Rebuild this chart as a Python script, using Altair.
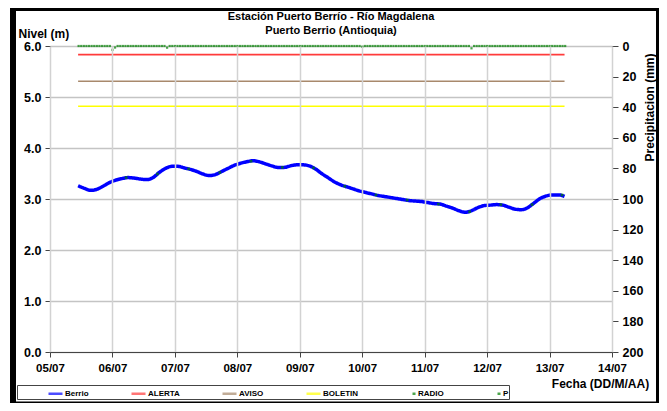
import altair as alt
import pandas as pd

# ---------------- data ----------------
T0 = pd.Timestamp("2011-07-05")

# Nivel Berrio (m), sampled every 0.1 day from day 0.45 after 05/07 00:00, last point at day 8.24
level_values = [3.26, 3.21, 3.17, 3.19, 3.25, 3.32, 3.37, 3.40, 3.42, 3.41,
                3.39, 3.38, 3.42, 3.52, 3.60, 3.64, 3.64, 3.61, 3.58, 3.54,
                3.49, 3.46, 3.48, 3.54, 3.60, 3.66, 3.70, 3.73, 3.75, 3.73,
                3.69, 3.65, 3.62, 3.62, 3.65, 3.67, 3.67, 3.65, 3.59, 3.50,
                3.42, 3.34, 3.28, 3.24, 3.20, 3.16, 3.13, 3.10, 3.07, 3.05,
                3.03, 3.01, 2.99, 2.97, 2.96, 2.95, 2.93, 2.91, 2.90, 2.86,
                2.82, 2.77, 2.74, 2.77, 2.83, 2.87, 2.88, 2.89, 2.88, 2.84,
                2.80, 2.79, 2.83, 2.92, 3.01, 3.06, 3.08, 3.08, 3.05]
level_days = [round(0.45 + 0.1 * i, 2) for i in range(78)] + [8.24]

# Threshold levels (m)
thr_names = ["ALERTA", "AVISO", "BOLETIN"]
thr_values = [5.83, 5.31, 4.82]
thr_span_days = [0.45, 8.24]

# RADIO readings (m)
radio_days = [1.22, 1.72, 2.22, 2.72, 3.22, 3.72, 4.22, 4.72, 5.22, 5.72, 6.22, 6.72, 7.22, 7.72, 8.20]
radio_values = [3.42, 3.49, 3.59, 3.52, 3.74, 3.62, 3.61, 3.25, 3.08, 2.98, 2.90, 2.75, 2.89, 2.89, 3.08]

# Precipitation (mm), hourly, from 05/07 11:00 to 13/07 06:00; zero except these hours
p_first_hour = 11
p_last_hour = 198
p_events = {24: 2.5, 25: 1.0, 45: 1.1, 120: 0.5, 162: 1.5}

series = ["Berrio", "ALERTA", "AVISO", "BOLETIN", "RADIO", "P"]
series_colors = ["#0000ff", "#ff3b3b", "#a8896c", "#ffff00", "#008000", "#008000"]
series_dash = [[1, 0], [1, 0], [1, 0], [1, 0], [0, 11, 3, 100], [0, 11, 3, 100]]

day_ticks = list(range(5, 15))

# ---------------- tables ----------------
def ts(d):
    return T0 + pd.Timedelta(days=d)

df_level = pd.DataFrame({"t": [ts(d) for d in level_days], "v": level_values, "serie": "Berrio"})
df_thr = pd.DataFrame([
    {"t": ts(d), "v": v, "serie": n}
    for n, v in zip(thr_names, thr_values) for d in thr_span_days
])
df_radio = pd.DataFrame({"t": [ts(d) for d in radio_days], "v": radio_values, "serie": "RADIO"})
hours = list(range(p_first_hour, p_last_hour + 1))
df_p = pd.DataFrame({
    "t": [T0 + pd.Timedelta(hours=h) for h in hours],
    "p": [p_events.get(h, 0.0) for h in hours],
    "serie": "P",
})

FONT = "Liberation Sans"
W, H = 562, 306

x_enc = alt.X(
    "t:T",
    scale=alt.Scale(domain=[alt.DateTime(year=2011, month=7, date=5),
                            alt.DateTime(year=2011, month=7, date=14)]),
    axis=alt.Axis(
        values=[alt.DateTime(year=2011, month=7, date=d) for d in day_ticks],
        format="%d/%m", labelFontWeight="bold", labelFontSize=11.5, labelColor="black",
        labelPadding=5, tickSize=5, tickColor="#444", domainColor="#444",
        grid=True, gridColor="#d2d2d2", gridWidth=1.5,
        title="Fecha (DD/M/AA)", titleFontSize=12, titleFontWeight="bold",
        titleX=550, titleY=31, titleAlign="center", titleBaseline="middle",
        labelFlush=False, zindex=1,
    ),
)

y_scale = alt.Scale(domain=[0, 6], nice=False, zero=True)
y_axis = alt.Axis(
    values=[i * 0.5 for i in range(13)],
    labelExpr="datum.value % 1 == 0 ? format(datum.value, '.1f') : ''",
    tickOpacity={"condition": {"test": "datum.value % 1 != 0", "value": 0}, "value": 1},
    labelFontWeight="bold", labelFontSize=12.5, labelColor="black", labelPadding=4,
    tickSize=5, tickColor="#444", domainColor="#444",
    grid=True, gridColor="#c4c4c4", gridWidth=1.3,
    title="Nivel (m)", titleAngle=0, titleX=-32, titleY=-13, titleAlign="left",
    titleBaseline="middle", titleFontSize=12, titleFontWeight="bold",
)

legend = alt.Legend(
    orient="none", legendX=-33, legendY=339, direction="horizontal", columns=6,
    title=" ", titleOrient="left", titlePadding=30,
    symbolType="stroke", symbolSize=196, symbolStrokeWidth=2.5,
    labelFontSize=8, labelFontWeight="bold", labelColor="black", labelOffset=1,
    columnPadding=37, padding=0, strokeColor="#444", fillColor="white",
)

stroke_scale = alt.Scale(domain=series, range=series_colors)
dash_scale = alt.Scale(domain=series, range=series_dash)

line_berrio = alt.Chart(df_level).mark_line(strokeWidth=3.5, interpolate="monotone").encode(
    x=x_enc,
    y=alt.Y("v:Q", scale=y_scale, axis=y_axis),
    stroke=alt.Stroke("serie:N", scale=stroke_scale, legend=legend),
    strokeDash=alt.StrokeDash("serie:N", scale=dash_scale, legend=legend),
)

line_thr = alt.Chart(df_thr).mark_line(strokeWidth=1.6).encode(
    x="t:T",
    y=alt.Y("v:Q"),
    stroke=alt.Stroke("serie:N", scale=stroke_scale, legend=legend),
    strokeDash=alt.StrokeDash("serie:N", scale=dash_scale, legend=legend),
    detail="serie:N",
)

pts_radio = alt.Chart(df_radio).mark_square(size=7, filled=True, color="#008000", strokeWidth=0).encode(
    x="t:T",
    y=alt.Y("v:Q"),
    stroke=alt.Stroke("serie:N", scale=stroke_scale, legend=legend),
)

left = alt.layer(line_thr, line_berrio, pts_radio)

pts_p = alt.Chart(df_p).mark_square(size=5, filled=True, color="#008000", strokeWidth=0).encode(
    x="t:T",
    y=alt.Y(
        "p:Q",
        scale=alt.Scale(domain=[0, 200], reverse=True, nice=False),
        axis=alt.Axis(
            orient="right", values=list(range(0, 201, 20)), format="d",
            labelFontWeight="bold", labelFontSize=12.5, labelColor="black", labelPadding=4,
            tickSize=6, tickColor="#444", domainColor="#444", grid=False,
            title="Precipitacion (mm)", titleAngle=270, titleX=37, titleY=61,
            titleAlign="center", titleBaseline="middle", titleFontSize=12,
            titleFontWeight="bold",
        ),
    ),
    stroke=alt.Stroke("serie:N", scale=stroke_scale, legend=legend),
)

frame = alt.Chart(pd.DataFrame({"a": [0]})).mark_rect(
    fillOpacity=0, stroke="black", strokeWidth=6
).encode(
    x=alt.value(-37), x2=alt.value(609), y=alt.value(-38), y2=alt.value(358.5)
)

chart = alt.layer(left, pts_p, frame).resolve_scale(y="independent").properties(
    width=W, height=H,
    autosize=alt.AutoSizeParams(type="none"),
    padding={"left": 42, "top": 38, "right": 47, "bottom": 51},
    title=alt.TitleParams(
        ["Estación Puerto Berrío - Río Magdalena", "Puerto Berrio (Antioquia)"],
        fontSize=11, fontWeight="bold", anchor="middle", offset=11, lineHeight=14,
        font=FONT, color="black", frame="group", dy=42,
    ),
).configure(font=FONT).configure_view(strokeWidth=0).configure_axis(
    labelFont=FONT, titleFont=FONT
).configure_legend(labelFont=FONT)

chart.save("out.html", embed_options={"renderer": "svg", "actions": False})
